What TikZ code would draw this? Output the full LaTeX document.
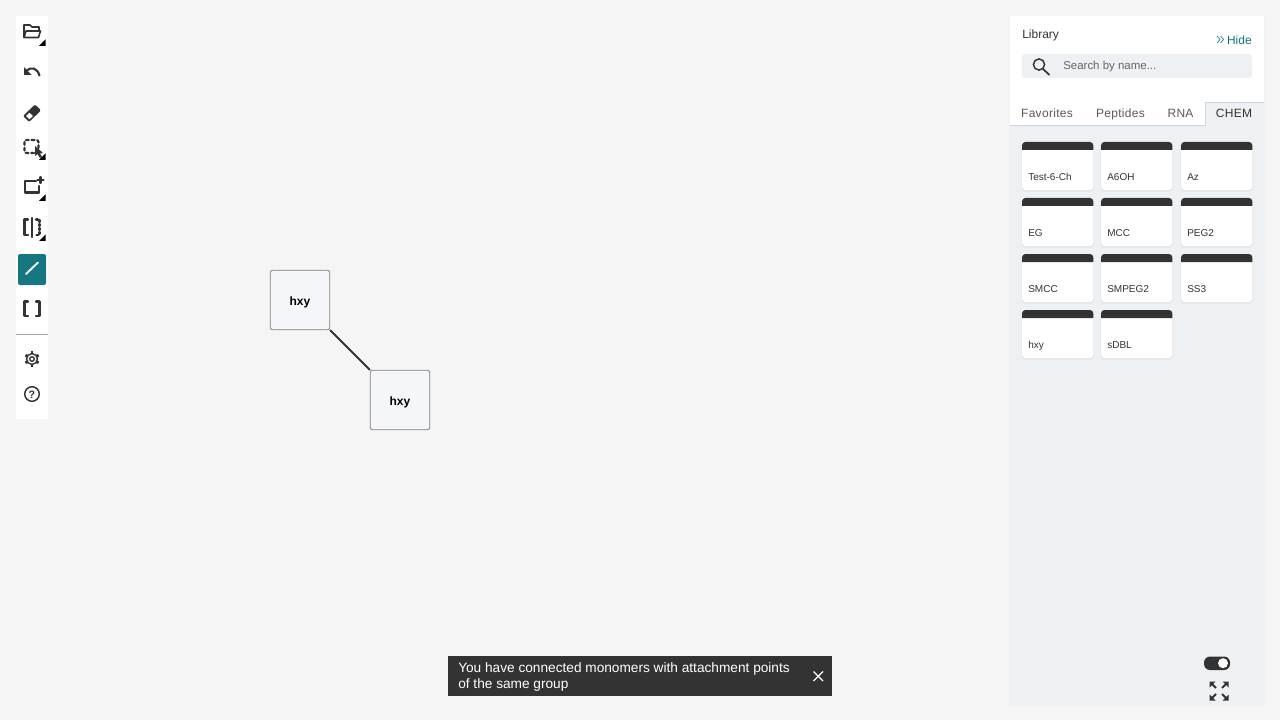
\documentclass[tikz,border=0pt]{standalone}
\usepackage{fontspec}
\setmainfont{Liberation Sans}
\definecolor{pagebg}{HTML}{F5F5F5}
\definecolor{panelbg}{HTML}{EEF1F4}
\definecolor{ink}{HTML}{333333}
\definecolor{tealc}{HTML}{167782}
\definecolor{monofill}{HTML}{F5F6F9}
\definecolor{tabline}{HTML}{CCD6E3}
\tikzset{
  px/.style={font=\fontsize{#1}{#1}\selectfont},
  label/.style={anchor=base west,inner sep=0pt,text=ink,px=9},
  tab/.style={anchor=base,inner sep=0pt,text=black!65,font=\fontsize{9}{9}\selectfont\addfontfeature{LetterSpace=2.5}},
  cardtext/.style={anchor=base west,inner sep=0pt,text=ink,px=7.5},
  monomer/.style={draw=black!50,line width=0.6pt,fill=monofill,rounded corners=1.5pt,minimum size=44.5pt,inner sep=0pt},
  monotext/.style={anchor=base,inner sep=0pt,font=\bfseries\fontsize{9}{9}\selectfont},
  icon/.style={draw=ink,line width=1.6pt,line cap=round,line join=round},
  corner/.style={fill=black}
}
\begin{document}
\begin{tikzpicture}[x=0.75pt,y=-0.75pt]
\useasboundingbox (0,0) rectangle (1280,720);
\fill[pagebg] (0,0) rectangle (1280,720);

%% left toolbar
\fill[white] (16,16) rectangle (48,419);
\fill[black!35] (16,334) rectangle (48,335);
\foreach \ty in {46,160,201,241}
  \fill[corner] (39,\ty) -- (45.5,\ty) -- (45.5,\ty-6.5) -- cycle;

% open
\draw[icon,line width=1.2pt] (24,37) -- (24,25) -- (30,25) -- (32,27) -- (39,27) -- (39,30);
\draw[icon,line width=1.2pt] (24,37.5) -- (26,31) -- (40.5,31) -- (38.5,37.5) -- cycle;
% undo
\draw[icon] (26,71) .. controls (31,66.5) and (37,67.5) .. (39.5,75.5);
\fill[ink] (24,67) -- (24,75) -- (31.5,75) -- cycle;
% eraser
\fill[ink,rounded corners=1pt] (35,104.5) -- (41,110.5) -- (29,122) -- (23,116) -- cycle;
\fill[white] (26,116) -- (29.5,112.8) -- (33,116) -- (29.3,119.3) -- cycle;
% select
\draw[icon,dash pattern=on 2.2pt off 2pt,rounded corners=1.5pt] (24.5,140) rectangle (38.5,153);
\fill[ink] (35,146) -- (35,156) -- (37.5,154) -- (40,158) -- (42,157) -- (40,153.5) -- (43,153) -- cycle;
% new rectangle
\draw[icon] (36,181) -- (25,181) -- (25,192.5) -- (39,192.5) -- (39,186);
\draw[icon] (40.5,177) -- (40.5,183) (37.5,180) -- (43.5,180);
% mirror
\draw[icon] (28,219.5) -- (24.5,219.5) -- (24.5,235) -- (28,235);
\draw[icon] (32,218) -- (32,237);
\draw[icon,dash pattern=on 1.5pt off 1.5pt] (36,219.5) -- (39.5,219.5) -- (39.5,235) -- (36,235);
% bond tool
\fill[tealc,rounded corners=1.5pt] (18,254) rectangle (46,285);
\draw[draw=white,line width=1.4pt,line cap=round] (26,274) -- (38,262.5);
% brackets
\draw[icon] (28,301.5) -- (24.5,301.5) -- (24.5,316) -- (28,316);
\draw[icon] (36,301.5) -- (39.5,301.5) -- (39.5,316) -- (36,316);
% settings
\draw[icon,line width=1.1pt] (32,359) circle (5.4);
\foreach \ga in {30,90,...,330}
  \draw[icon,line width=2pt,line cap=butt] (32,359) ++(\ga:5.2) -- ++(\ga:2.4);
\fill[white] (32,359) circle (4.2);
\draw[icon,line width=1pt] (32,359) circle (2.3);
% help
\draw[icon,line width=1.1pt] (32,394) circle (7.3);
\node[inner sep=0pt,anchor=base,text=ink,font=\bfseries\fontsize{8}{8}\selectfont] (helpmark) at (32,398) {?};

%% canvas
\node[monomer] (m1) at (300,300) {};
\node[monomer] (m2) at (400,400) {};
\node[monotext] (m1text) at (300,305) {hxy};
\node[monotext] (m2text) at (400,405) {hxy};
\draw[ink,line width=1.4pt] (m1.south east) -- (m2.north west);

%% library panel
\fill[black!5] (1008.5,18) rectangle (1265.5,706);
\fill[panelbg] (1010,16) rectangle (1264,704);
\fill[white] (1010,16) rectangle (1264,102);
\fill[white] (1010,102) rectangle (1205,125);
\node[label] (libtitle) at (1022,38.7) {Library};
\node[label,anchor=base east,text=tealc] (hide) at (1252,44.7) {Hide};
\draw[tealc,line width=0.5pt] (1217,36) -- (1220,39.5) -- (1217,43) (1220.5,36) -- (1223.5,39.5) -- (1220.5,43);
\fill[panelbg,rounded corners=2pt] (1022,54) rectangle (1252,78);
\draw[ink,line width=1.1pt] (1039,64.5) circle (5.6);
\draw[ink,line width=1.3pt] (1043,69) -- (1049.5,75);
\node[label,text=black!60,px=8.6] (search) at (1063,69.7) {Search by name...};

\node[tab] (tfav) at (1047,118) {Favorites};
\node[tab] (tpep) at (1120.5,118) {Peptides};
\node[tab] (trna) at (1180.5,118) {RNA};
\node[tab,text=ink] (tchem) at (1234,118) {CHEM};
\draw[tabline,line width=0.75pt] (1010,125.5) -- (1205.5,125.5) -- (1205.5,102.5) -- (1264,102.5);

\foreach \cx/\cy/\cname in {1022/142/Test-6-Ch,1101/142/A6OH,1181/142/Az,
    1022/198/EG,1101/198/MCC,1181/198/PEG2,
    1022/254/SMCC,1101/254/SMPEG2,1181/254/SS3,
    1022/310/hxy,1101/310/sDBL}{
  \fill[black!10,rounded corners=3pt] (\cx-0.7,\cy+1) rectangle (\cx+72,\cy+49.7);
  \fill[white,rounded corners=2.5pt] (\cx,\cy) rectangle (\cx+71.3,\cy+48);
  \fill[ink] (\cx,\cy+8) [rounded corners=2.5pt] -- (\cx,\cy) -- (\cx+71.3,\cy) [sharp corners] -- (\cx+71.3,\cy+8) -- cycle;
  \node[cardtext] at (\cx+6,\cy+38.4) {\cname};
}

% toggle and fit
\fill[ink,rounded corners=4.5pt] (1204,656.5) rectangle (1230,670);
\fill[white] (1223,663.2) circle (5);
\foreach \sx/\sy in {-1/-1,1/-1,-1/1,1/1}{
  \draw[icon,line width=1.5pt,line cap=butt] (1219+\sx*3,691+\sy*3) -- (1219+\sx*8,691+\sy*8);
  \fill[ink] (1219+\sx*9.5,691+\sy*9.5) -- (1219+\sx*3.5,691+\sy*9.5) -- (1219+\sx*9.5,691+\sy*3.5) -- cycle;
}

%% toast
\fill[ink] (448,656) rectangle (832,696);
\node[label,text=white,px=10.25] (msg1) at (458,672) {You have connected monomers with attachment points};
\node[label,text=white,px=10.25] (msg2) at (458,688.3) {of the same group};
\draw[white,line width=1pt] (813.5,671.5) -- (823,681) (823,671.5) -- (813.5,681);
\end{tikzpicture}
\end{document}
